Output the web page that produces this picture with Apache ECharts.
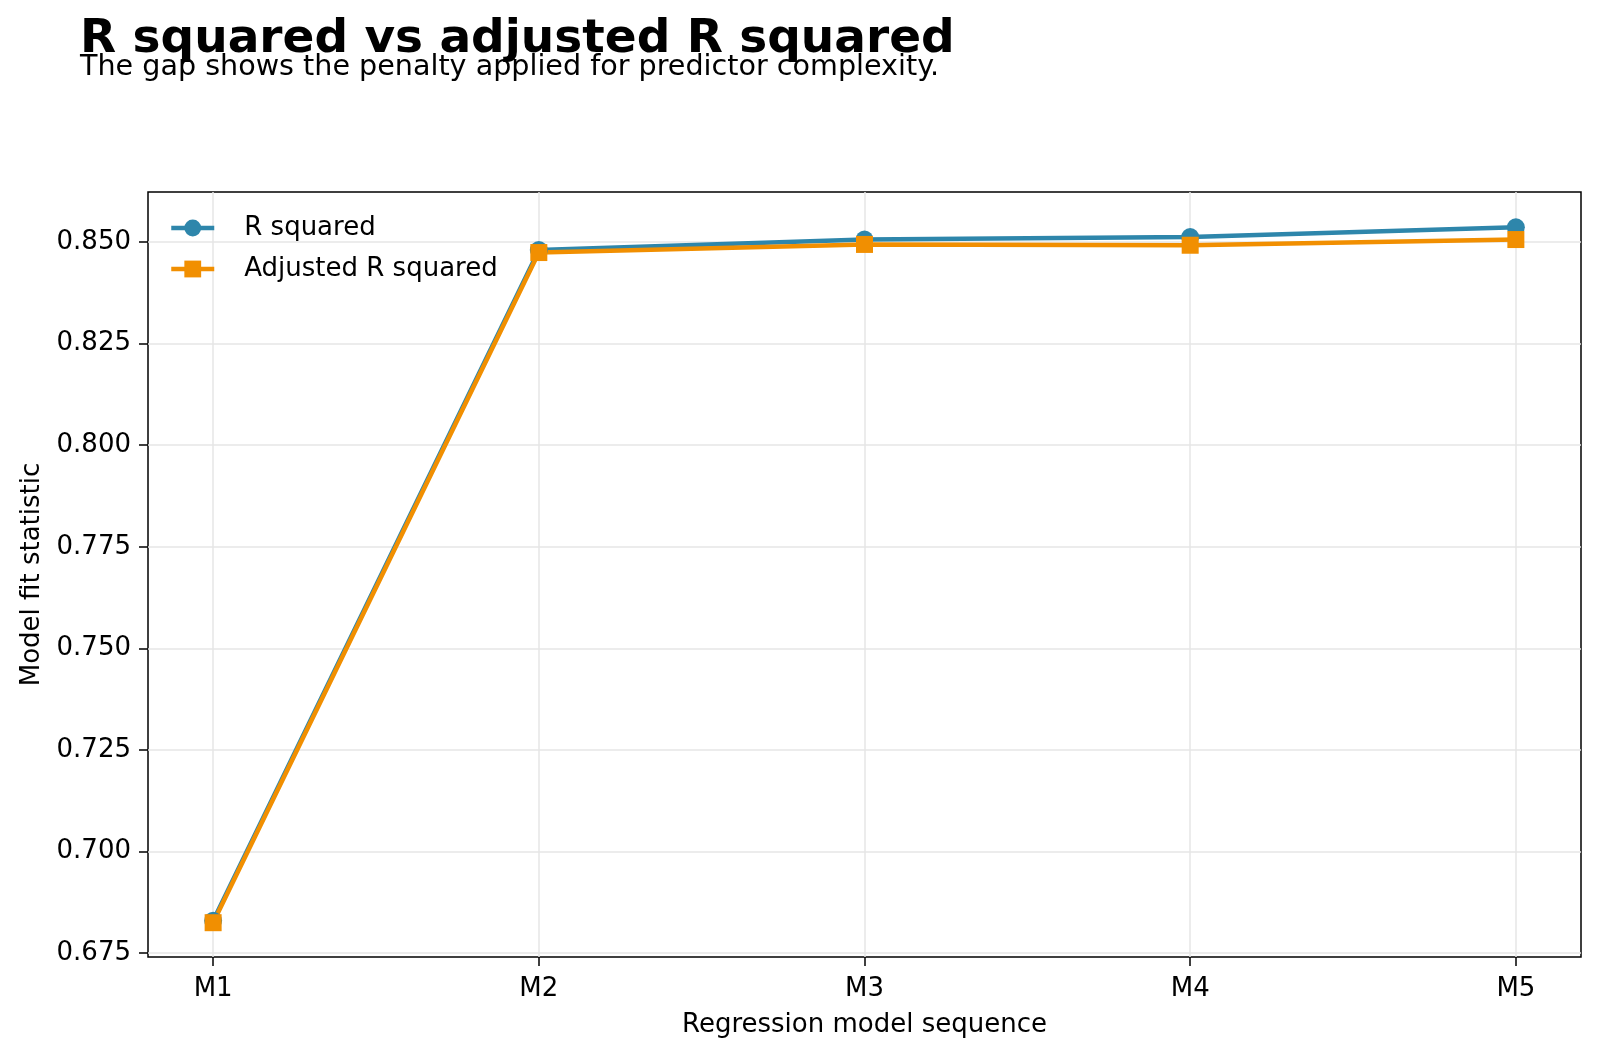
<!DOCTYPE html>
<html>
<head>
<meta charset="utf-8">
<script src="https://cdn.jsdelivr.net/npm/echarts@6/dist/echarts.min.js"></script>
<style>
  html, body { margin: 0; padding: 0; background: #fff; }
  #main { width: 1600px; height: 1057px; }
</style>
</head>
<body>
<div id="main"></div>
<script>
// chart data
const models = ["M1", "M2", "M3", "M4", "M5"];
const rSquared = [0.6830, 0.8480, 0.8506, 0.8512, 0.8536];
const adjRSquared = [0.6825, 0.8474, 0.8494, 0.8492, 0.8506];
const yTicks = [0.675, 0.7, 0.725, 0.75, 0.775, 0.8, 0.825, 0.85];

const font = "DejaVu Sans";
const xIdx = models.map((m, i) => i);

let chart = echarts.init(document.getElementById("main"));
let option = {
  backgroundColor: "#fff",
  animation: false,
  title: {
    text: "R squared vs adjusted R squared",
    subtext: "The gap shows the penalty applied for predictor complexity.",
    left: 80,
    top: 16,
    padding: 0,
    itemGap: -10,
    textStyle: { fontFamily: font, fontSize: 47, fontWeight: "bold", color: "#000" },
    subtextStyle: { fontFamily: font, fontSize: 28.6, color: "#000" },
  },
  legend: {
    left: 169,
    top: 215,
    padding: 0,
    orient: "vertical",
    itemWidth: 43,
    itemHeight: 21,
    itemGap: 15,
    lineStyle: { width: 4.5 },
    textStyle: { fontFamily: font, fontSize: 26, color: "#000", padding: [0, 0, 0, 25] },
    data: ["R squared", "Adjusted R squared"],
  },
  grid: {
    left: 148,
    top: 192,
    width: 1433,
    height: 765,
    show: true,
    borderColor: "#000",
    borderWidth: 1.5,
    backgroundColor: "transparent",
  },
  xAxis: {
    type: "value",
    min: -0.2,
    max: 4.2,
    name: "Regression model sequence",
    nameLocation: "middle",
    nameGap: 55,
    nameTextStyle: { fontFamily: font, fontSize: 26, color: "#000" },
    axisLine: { show: false, onZero: false },
    axisTick: { show: true, length: 9, lineStyle: { color: "#000", width: 1.5 }, customValues: xIdx },
    axisLabel: {
      customValues: xIdx,
      margin: 19,
      fontFamily: font,
      fontSize: 26,
      color: "#000",
      formatter: (v) => models[Math.round(v)] || "",
    },
    splitLine: { show: true, lineStyle: { color: "#e6e6e6", width: 1.5 } },
  },
  yAxis: {
    type: "value",
    min: 0.67406,
    max: 0.8623,
    name: "Model fit statistic",
    nameLocation: "middle",
    nameGap: 103,
    nameTextStyle: { fontFamily: font, fontSize: 26, color: "#000" },
    axisLine: { show: false, onZero: false },
    axisTick: { show: true, length: 9, lineStyle: { color: "#000", width: 1.5 }, customValues: yTicks },
    axisLabel: {
      customValues: yTicks,
      margin: 17,
      fontFamily: font,
      fontSize: 26,
      color: "#000",
      formatter: (v) => v.toFixed(3),
    },
    splitLine: { show: true, lineStyle: { color: "#e6e6e6", width: 1.5 } },
  },
  series: [
    {
      name: "R squared",
      type: "line",
      data: rSquared.map((v, i) => [xIdx[i], v]),
      symbol: "circle",
      symbolSize: 18,
      lineStyle: { color: "#2E86AB", width: 4.5 },
      itemStyle: { color: "#2E86AB" },
    },
    {
      name: "Adjusted R squared",
      type: "line",
      data: adjRSquared.map((v, i) => [xIdx[i], v]),
      symbol: "rect",
      symbolSize: 17,
      lineStyle: { color: "#F18F01", width: 4.5 },
      itemStyle: { color: "#F18F01" },
    },
  ],
};
chart.setOption(option);
</script>
</body>
</html>
